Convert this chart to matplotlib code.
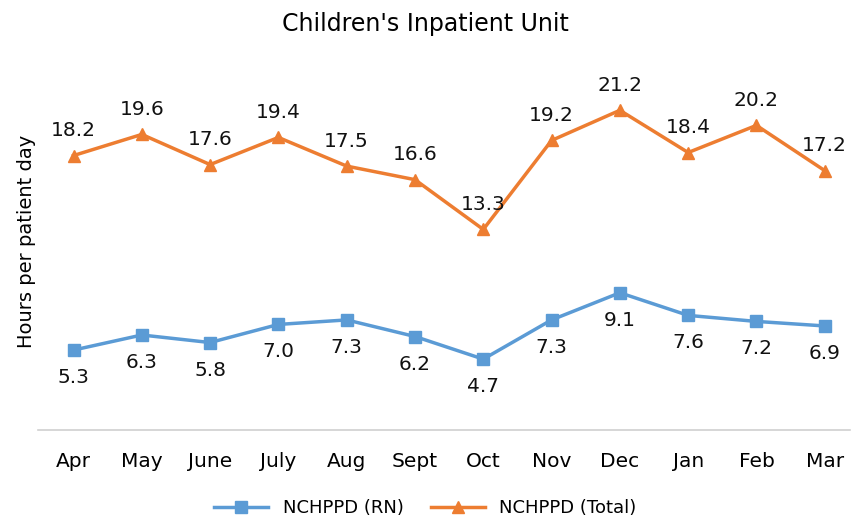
import matplotlib.pyplot as plt

months = ['Apr', 'May', 'June', 'July', 'Aug', 'Sept', 'Oct', 'Nov', 'Dec', 'Jan', 'Feb', 'Mar']
rn = [5.3, 6.3, 5.8, 7.0, 7.3, 6.2, 4.7, 7.3, 9.1, 7.6, 7.2, 6.9]
total = [18.2, 19.6, 17.6, 19.4, 17.5, 16.6, 13.3, 19.2, 21.2, 18.4, 20.2, 17.2]

blue = '#5B9BD5'
orange = '#ED7D31'

fig = plt.figure(figsize=(8.51, 5.23), dpi=100)
ax = fig.add_axes([38/851, 1-430/523, 812/851, 377/523])

x = list(range(len(months)))
ax.plot(x, rn, color=blue, lw=2.5, marker='s', ms=9, label='NCHPPD (RN)')
ax.plot(x, total, color=orange, lw=2.5, marker='^', ms=9, label='NCHPPD (Total)')

for i in x:
    ax.annotate('%.1f' % rn[i], (i, rn[i]), xytext=(0, -13), textcoords='offset points',
                ha='center', va='top', fontsize=14.5, color='#111111')
    ax.annotate('%.1f' % total[i], (i, total[i]), xytext=(0, 11), textcoords='offset points',
                ha='center', va='bottom', fontsize=14.5, color='#111111')

ax.set_xlim(-0.52, 11.37)
ax.set_ylim(0, 25)
ax.set_xticks(x)
ax.set_xticklabels(months, fontsize=14.5)
ax.tick_params(axis='x', length=0, pad=16)
ax.set_yticks([])
for s in ['top', 'right', 'left']:
    ax.spines[s].set_visible(False)
ax.spines['bottom'].set_color('#d0d0d0')
ax.spines['bottom'].set_linewidth(1.2)
ax.set_ylabel('Hours per patient day', fontsize=14)
ax.yaxis.set_label_coords(-0.002, 0.5)

fig.text(0.5, 1-24/523, "Children's Inpatient Unit", ha='center', va='center', fontsize=17)
fig.legend(loc='center', bbox_to_anchor=(0.5, 1-508/523), ncol=2, frameon=False,
           fontsize=13, handlelength=3, columnspacing=1.5)

fig.savefig('out.png')
